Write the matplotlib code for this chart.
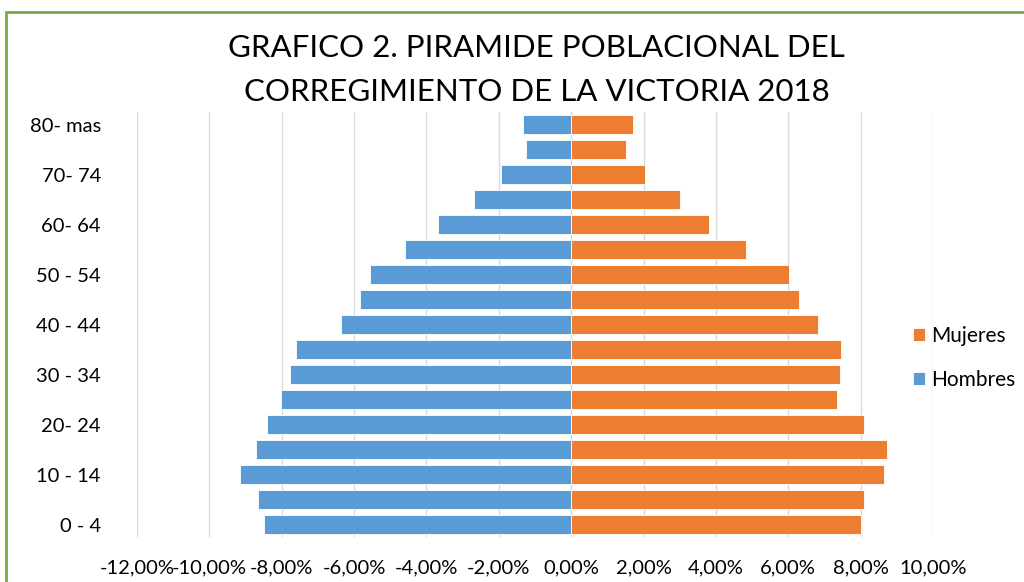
import matplotlib
matplotlib.use("Agg")
import matplotlib.pyplot as plt
from matplotlib.patches import Rectangle
import numpy as np

plt.rcParams["font.family"] = ["Lato", "DejaVu Sans"]

# age groups, bottom to top
grupos = ["0 - 4", "5 - 9", "10 - 14", "15 - 19", "20- 24", "25 - 29", "30 - 34",
          "35 - 39", "40 - 44", "45 - 49", "50 - 54", "55 - 59", "60- 64",
          "65 - 69", "70- 74", "75 - 79", "80- mas"]
# percent of population (hombres drawn to the left as negatives)
hombres = [8.50, 8.66, 9.15, 8.72, 8.41, 8.01, 7.76, 7.60, 6.37, 5.85, 5.56,
           4.58, 3.68, 2.69, 1.95, 1.26, 1.32]
mujeres = [8.01, 8.10, 8.65, 8.74, 8.10, 7.35, 7.44, 7.47, 6.82, 6.30, 6.01,
           4.82, 3.81, 3.00, 2.04, 1.52, 1.71]
xticks = [-12, -10, -8, -6, -4, -2, 0, 2, 4, 6, 8, 10]

azul = "#5B9BD5"
naranja = "#ED7D31"

fig = plt.figure(figsize=(10.24, 5.82), dpi=100)
ax = fig.add_axes([0.1338, 0.0773, 0.7773, 0.7302])

y = np.arange(len(grupos))
ax.barh(y, -np.array(hombres), height=0.79, color=azul, edgecolor="white",
        linewidth=0.6, label="Hombres", zorder=3)
ax.barh(y, mujeres, height=0.79, color=naranja, edgecolor="white",
        linewidth=0.6, label="Mujeres", zorder=3)

ax.set_xlim(-12, 10)
ax.set_ylim(-0.5, len(grupos) - 0.5)
ax.set_xticks(xticks)
ax.set_xticklabels([f"{v:.2f}%".replace(".", ",") for v in xticks], fontsize=14.5)
ax.set_yticks(y[::2])
ax.set_yticklabels(grupos[::2], fontsize=14.5)
ax.tick_params(length=0)
ax.tick_params(axis="x", pad=16)
ax.tick_params(axis="y", pad=26)
ax.grid(axis="x", color="#D9D9D9", linewidth=1, zorder=0)
for s in ax.spines.values():
    s.set_visible(False)

h, l = ax.get_legend_handles_labels()
fig.legend(h[::-1], l[::-1], loc="center left", bbox_to_anchor=(0.873, 0.385),
           frameon=False, fontsize=15, handlelength=0.6, handleheight=0.6,
           handletextpad=0.3, labelspacing=1.15)

fig.text(0.524, 0.88, "GRAFICO 2. PIRAMIDE POBLACIONAL DEL\nCORREGIMIENTO DE LA VICTORIA 2018",
         ha="center", va="center", fontsize=22.5, linespacing=1.7)

# green chart-area border (right and bottom edges fall outside the crop)
fig.patches.append(Rectangle((6 / 1024, -0.05), 1.1, 1 - 12 / 582 + 0.05,
                             transform=fig.transFigure, fill=False,
                             edgecolor="#70AD47", linewidth=2))

fig.savefig("out.png", dpi=100, facecolor="white")
